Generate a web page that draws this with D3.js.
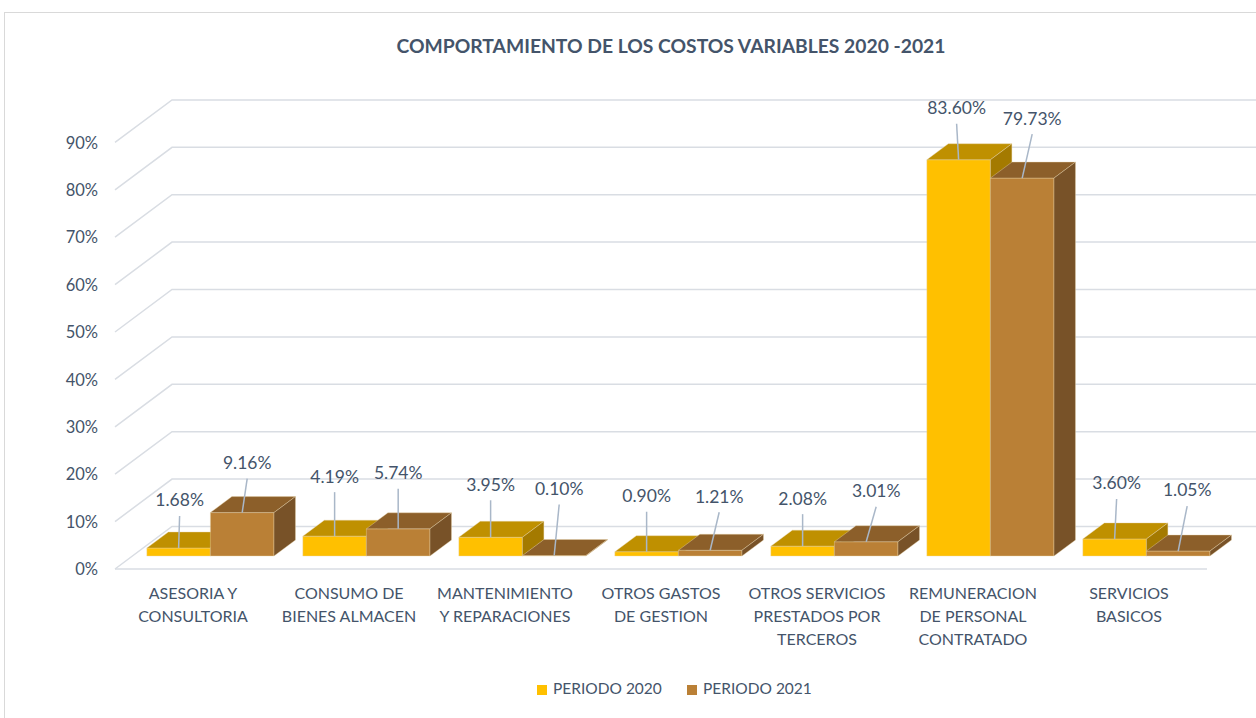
<!DOCTYPE html>
<html>
<head>
<meta charset="utf-8">
<script src="https://cdnjs.cloudflare.com/ajax/libs/d3/7.8.5/d3.min.js"></script>
<style>
  body { margin: 0; background: #fff; }
  svg { display: block; font-family: Lato, "Open Sans", sans-serif; }
  .lbl { fill: #44546A; }
</style>
</head>
<body>
<svg id="chart" width="1256" height="718"></svg>
<script>
// data
const categories = [
  ["ASESORIA Y", "CONSULTORIA"],
  ["CONSUMO DE", "BIENES ALMACEN"],
  ["MANTENIMIENTO", "Y REPARACIONES"],
  ["OTROS GASTOS", "DE GESTION"],
  ["OTROS SERVICIOS", "PRESTADOS POR", "TERCEROS"],
  ["REMUNERACION", "DE PERSONAL", "CONTRATADO"],
  ["SERVICIOS", "BASICOS"]
];
const series = ["PERIODO 2020", "PERIODO 2021"];
const periodo2020 = [1.68, 4.19, 3.95, 0.90, 2.08, 83.60, 3.60];
const periodo2021 = [9.16, 5.74, 0.10, 1.21, 3.01, 79.73, 1.05];
const yTicks = [0, 10, 20, 30, 40, 50, 60, 70, 80, 90];

// hand placed label nudges (like excel does), [dx, dy] from bar top
const nudge2020 = [[1, -46], [0, -58], [0, -51], [0, -54], [0, -46], [-2, -50], [2, -54]];
const nudge2021 = [[5, -48], [0, -54], [5, -65], [9, -52], [10, -49], [10, -58], [9, -59]];

const svg = d3.select("#chart");

// colours: front, top, side
const faces = [
  ["#FFC000", "#BF9000", "#A47A00"],
  ["#BA8036", "#8C5F2A", "#785228"]
];

// plot geometry (front plane of the floor)
const left = 115, right = 1207, base = 569;
const depth = [57, -42.5];          // full depth of the 3d box
const barOff = [17.4, -13];         // where bars start in depth
const barDepth = [21.5, -16];

const x0 = d3.scaleBand().domain(d3.range(categories.length))
  .range([left, right]).paddingInner(0.185).paddingOuter(0.0925);
const x1 = d3.scaleBand().domain([0, 1]).range([0, x0.bandwidth()]);
const y = d3.scaleLinear().domain([0, 90]).range([base, base - 90 * 4.74]);

// frame
svg.append("rect").attr("x", 4.5).attr("y", 12.5).attr("width", 1400).attr("height", 800)
  .attr("fill", "none").attr("stroke", "#D9D9D9");

// title
svg.append("text").attr("class", "lbl").attr("x", 671).attr("y", 53)
  .attr("text-anchor", "middle").attr("font-weight", "bold").attr("font-size", 19.3)
  .text("COMPORTAMIENTO DE LOS COSTOS VARIABLES 2020 -2021");

// gridlines on left wall + back wall
const grid = svg.append("g").attr("stroke", "#D9DDE3").attr("stroke-width", 1.5).attr("fill", "none");
yTicks.forEach(t => {
  const yy = y(t);
  grid.append("path")
    .attr("d", `M${left},${yy}L${left + depth[0]},${yy + depth[1]}L${1300},${yy + depth[1]}`);
});
// floor front edge
grid.append("line").attr("x1", left).attr("x2", right).attr("y1", base).attr("y2", base);

// y axis labels
svg.append("g").selectAll("text").data(yTicks).join("text")
  .attr("class", "lbl").attr("x", 98).attr("y", d => y(d) + 2)
  .attr("text-anchor", "end").attr("dominant-baseline", "middle").attr("font-size", 16.5)
  .text(d => d + "%");

// bars, painted left to right
const bars = [];
categories.forEach((c, i) => {
  [periodo2020, periodo2021].forEach((vals, s) => {
    bars.push({ i, s, v: vals[i], nudge: (s === 0 ? nudge2020 : nudge2021)[i] });
  });
});

const barG = svg.append("g");
bars.forEach(b => {
  const xl = x0(b.i) + x1(b.s) + barOff[0];
  const xr = xl + x1.bandwidth();
  const yb = base + barOff[1];
  const yt = y(b.v) + barOff[1];
  const [dx, dy] = barDepth;
  const col = faces[b.s];
  b.cx = (xl + xr) / 2;
  b.ty = yt;
  const g = barG.append("g").attr("stroke", "#E8D3A8").attr("stroke-width", 0.4);
  g.append("path").attr("fill", col[0])
    .attr("d", `M${xl},${yb}L${xr},${yb}L${xr},${yt}L${xl},${yt}Z`);
  g.append("path").attr("fill", col[1])
    .attr("d", `M${xl},${yt}L${xr},${yt}L${xr + dx},${yt + dy}L${xl + dx},${yt + dy}Z`);
  g.append("path").attr("fill", col[2])
    .attr("d", `M${xr},${yb}L${xr + dx},${yb + dy}L${xr + dx},${yt + dy}L${xr},${yt}Z`);
});

// data labels with leader lines
const lab = svg.append("g");
bars.forEach(b => {
  const lx = b.cx + b.nudge[0], ly = b.ty + b.nudge[1];
  lab.append("line").attr("x1", lx).attr("y1", ly + 14).attr("x2", b.cx).attr("y2", b.ty)
    .attr("stroke", "#A9B7C8").attr("stroke-width", 1.5);
  lab.append("text").attr("class", "lbl").attr("x", lx).attr("y", ly)
    .attr("text-anchor", "middle").attr("dominant-baseline", "middle").attr("font-size", 17.5)
    .text(b.v.toFixed(2) + "%");
});

// category labels
const catG = svg.append("g");
categories.forEach((lines, i) => {
  const t = catG.append("text").attr("class", "lbl").attr("text-anchor", "middle").attr("font-size", 16);
  lines.forEach((ln, k) => {
    t.append("tspan").attr("x", x0(i) + x0.bandwidth() / 2).attr("y", 599 + k * 23).text(ln);
  });
});

// legend
const leg = svg.append("g");
series.forEach((s, k) => {
  const lx = 537 + k * 150;
  leg.append("rect").attr("x", lx).attr("y", 685).attr("width", 10).attr("height", 10).attr("fill", faces[k][0]);
  leg.append("text").attr("class", "lbl").attr("x", lx + 16).attr("y", 690)
    .attr("dominant-baseline", "middle").attr("font-size", 15.5).text(s);
});
</script>
</body>
</html>
